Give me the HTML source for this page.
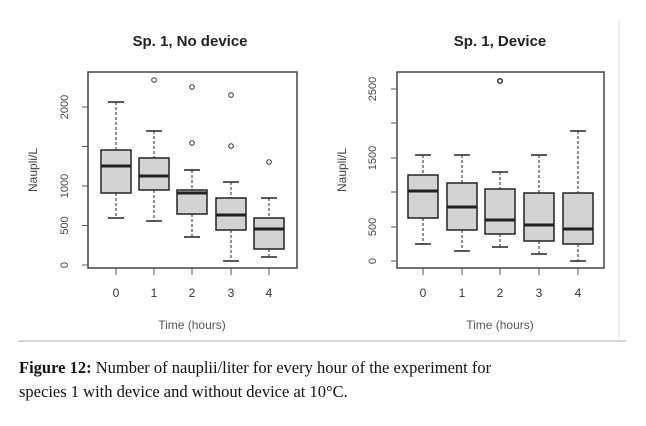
<!DOCTYPE html>
<html><head><meta charset="utf-8"><style>
body{margin:0;background:#fff;width:646px;height:426px;overflow:hidden}
svg{position:absolute;left:0;top:0}
.cap{position:absolute;left:19px;top:356px;font-family:"Liberation Serif",serif;font-size:16.5px;line-height:24px;color:#111;width:620px;white-space:nowrap}
</style></head><body>
<svg width="646" height="426" font-family="Liberation Sans, sans-serif">
<line x1="18" y1="341" x2="626" y2="341" stroke="#c8c8c8" stroke-width="1.5"/>
<line x1="619" y1="20" x2="619" y2="340" stroke="#ddd" stroke-width="1"/>
<g fill="#222" font-weight="bold" font-size="15" text-anchor="middle">
<text x="190" y="46">Sp. 1, No device</text>
<text x="500" y="46">Sp. 1, Device</text>
</g>
<g fill="none" stroke="#444" stroke-width="1.5">
<rect x="88" y="72" width="209" height="196"/>
<rect x="397" y="72" width="207" height="196"/>
</g>
<g stroke="#555" stroke-width="1">
<line x1="82" y1="265" x2="88" y2="265"/><line x1="82" y1="225.5" x2="88" y2="225.5"/><line x1="82" y1="186" x2="88" y2="186"/><line x1="82" y1="146.5" x2="88" y2="146.5"/><line x1="82" y1="107" x2="88" y2="107"/>
<line x1="391" y1="261" x2="397" y2="261"/><line x1="391" y1="227" x2="397" y2="227"/><line x1="391" y1="192" x2="397" y2="192"/><line x1="391" y1="158" x2="397" y2="158"/><line x1="391" y1="123" x2="397" y2="123"/><line x1="391" y1="89" x2="397" y2="89"/>
<line x1="116" y1="268" x2="116" y2="275"/><line x1="154" y1="268" x2="154" y2="275"/><line x1="192" y1="268" x2="192" y2="275"/><line x1="231" y1="268" x2="231" y2="275"/><line x1="269" y1="268" x2="269" y2="275"/>
<line x1="423" y1="268" x2="423" y2="275"/><line x1="462" y1="268" x2="462" y2="275"/><line x1="500" y1="268" x2="500" y2="275"/><line x1="539" y1="268" x2="539" y2="275"/><line x1="578" y1="268" x2="578" y2="275"/>
</g>
<g fill="#444" font-size="11" text-anchor="middle">
<text transform="translate(68,265) rotate(-90)">0</text>
<text transform="translate(68,225.5) rotate(-90)">500</text>
<text transform="translate(68,186) rotate(-90)">1000</text>
<text transform="translate(68,107) rotate(-90)">2000</text>
<text transform="translate(376,261) rotate(-90)">0</text>
<text transform="translate(376,227) rotate(-90)">500</text>
<text transform="translate(376,158) rotate(-90)">1500</text>
<text transform="translate(376,89) rotate(-90)">2500</text>
<text transform="translate(37,170) rotate(-90)" font-size="12">Naupli/L</text>
<text transform="translate(346,170) rotate(-90)" font-size="12">Naupli/L</text>
</g>
<g fill="#333" font-size="12" text-anchor="middle">
<text x="116" y="297">0</text><text x="154" y="297">1</text><text x="192" y="297">2</text><text x="231" y="297">3</text><text x="269" y="297">4</text>
<text x="423" y="297">0</text><text x="462" y="297">1</text><text x="500" y="297">2</text><text x="539" y="297">3</text><text x="578" y="297">4</text>
<text x="192" y="329" fill="#555">Time (hours)</text>
<text x="500" y="329" fill="#555">Time (hours)</text>
</g>
<g stroke="#222">
<g stroke-dasharray="3,2" stroke-width="1">
<line x1="116" y1="102" x2="116" y2="150"/><line x1="116" y1="193" x2="116" y2="218"/>
<line x1="154" y1="131" x2="154" y2="158"/><line x1="154" y1="190" x2="154" y2="221"/>
<line x1="192" y1="170" x2="192" y2="190"/><line x1="192" y1="214" x2="192" y2="237"/>
<line x1="231" y1="182" x2="231" y2="198"/><line x1="231" y1="230" x2="231" y2="261"/>
<line x1="269" y1="198" x2="269" y2="218"/><line x1="269" y1="249" x2="269" y2="257"/>
<line x1="423" y1="155" x2="423" y2="175"/><line x1="423" y1="218" x2="423" y2="244"/>
<line x1="462" y1="155" x2="462" y2="183"/><line x1="462" y1="230" x2="462" y2="251"/>
<line x1="500" y1="172" x2="500" y2="189"/><line x1="500" y1="234" x2="500" y2="247"/>
<line x1="539" y1="155" x2="539" y2="193"/><line x1="539" y1="241" x2="539" y2="254"/>
<line x1="578" y1="131" x2="578" y2="193"/><line x1="578" y1="244" x2="578" y2="261"/>
</g>
<g stroke-width="1.5">
<line x1="108" y1="102" x2="124" y2="102"/><line x1="108" y1="218" x2="124" y2="218"/>
<line x1="146" y1="131" x2="162" y2="131"/><line x1="146" y1="221" x2="162" y2="221"/>
<line x1="184" y1="170" x2="200" y2="170"/><line x1="184" y1="237" x2="200" y2="237"/>
<line x1="223" y1="182" x2="239" y2="182"/><line x1="223" y1="261" x2="239" y2="261"/>
<line x1="261" y1="198" x2="277" y2="198"/><line x1="261" y1="257" x2="277" y2="257"/>
<line x1="415" y1="155" x2="431" y2="155"/><line x1="415" y1="244" x2="431" y2="244"/>
<line x1="454" y1="155" x2="470" y2="155"/><line x1="454" y1="251" x2="470" y2="251"/>
<line x1="492" y1="172" x2="508" y2="172"/><line x1="492" y1="247" x2="508" y2="247"/>
<line x1="531" y1="155" x2="547" y2="155"/><line x1="531" y1="254" x2="547" y2="254"/>
<line x1="570" y1="131" x2="586" y2="131"/><line x1="570" y1="261" x2="586" y2="261"/>
</g>
<g fill="#d3d3d3" stroke-width="1.5">
<rect x="101" y="150" width="30" height="43"/>
<rect x="139" y="158" width="30" height="32"/>
<rect x="177" y="190" width="30" height="24"/>
<rect x="216" y="198" width="30" height="32"/>
<rect x="254" y="218" width="30" height="31"/>
<rect x="408" y="175" width="30" height="43"/>
<rect x="447" y="183" width="30" height="47"/>
<rect x="485" y="189" width="30" height="45"/>
<rect x="524" y="193" width="30" height="48"/>
<rect x="563" y="193" width="30" height="51"/>
</g>
<g stroke-width="3">
<line x1="101" y1="166" x2="131" y2="166"/><line x1="139" y1="176" x2="169" y2="176"/><line x1="177" y1="193" x2="207" y2="193"/><line x1="216" y1="215" x2="246" y2="215"/><line x1="254" y1="229" x2="284" y2="229"/>
<line x1="408" y1="191" x2="438" y2="191"/><line x1="447" y1="207" x2="477" y2="207"/><line x1="485" y1="220" x2="515" y2="220"/><line x1="524" y1="225" x2="554" y2="225"/><line x1="563" y1="229" x2="593" y2="229"/>
</g>
<g fill="none" stroke="#333" stroke-width="1">
<circle cx="154" cy="80" r="2.3"/><circle cx="192" cy="87" r="2.3"/><circle cx="192" cy="143" r="2.3"/><circle cx="231" cy="95" r="2.3"/><circle cx="231" cy="146" r="2.3"/><circle cx="269" cy="162" r="2.3"/><circle cx="500" cy="81" r="2.3" stroke-width="1.5"/>
</g>
</g>
</svg>
<div class="cap"><b>Figure 12:</b> Number of nauplii/liter for every hour of the experiment for<br>species 1 with device and without device at 10°C.</div>
</body></html>
